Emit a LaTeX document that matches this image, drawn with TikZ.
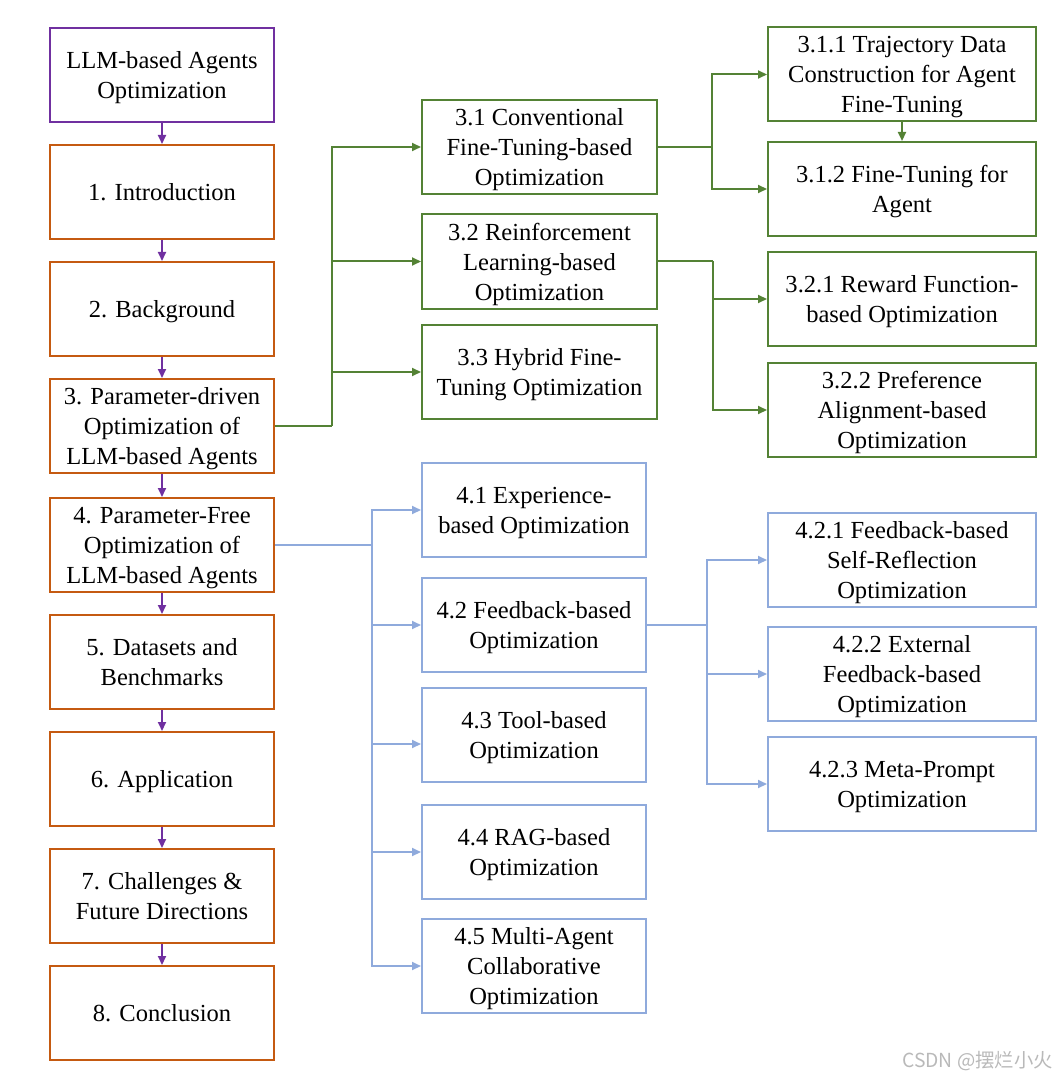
\documentclass[tikz,border=0pt]{standalone}
\usepackage{fontspec}
\setmainfont{Liberation Serif}
\newfontfamily\cjk{Noto Sans CJK SC}
\usepackage{tikz}
\usetikzlibrary{arrows.meta}

\begin{document}
\begin{tikzpicture}[x=0.75pt,y=0.75pt,yscale=-1,xscale=1,
  box/.style={draw,line width=1.5pt,inner sep=0pt,align=center,text depth=0pt,font=\fontsize{18.4}{22.5}\selectfont},
  leftbox/.style={box,minimum width=168pt,minimum height=70.5pt},
  midbox/.style={box,minimum width=168pt,minimum height=70.5pt},
  widebox/.style={box,minimum width=176.25pt,minimum height=70.5pt},
  rightbox/.style={box,minimum width=201pt,minimum height=70.5pt},
  purp/.style={color={rgb, 255:red, 112; green, 48; blue, 160 }},
  orng/.style={color={rgb, 255:red, 197; green, 90; blue, 17 }},
  grn/.style={color={rgb, 255:red, 84; green, 130; blue, 53 }},
  blu/.style={color={rgb, 255:red, 143; green, 170; blue, 220 }},
  link/.style={line width=1.5pt},
  arr/.style={link,-{Triangle[length=6.75pt,width=6pt]}}
]
\useasboundingbox (0,0) rectangle (1058,1080);

%Left column
\node [leftbox,purp,text=black] (top) at (162,75) {LLM-based Agents\\Optimization};
\node [leftbox,orng,text=black] (s1) at (162,192) {1. Introduction};
\node [leftbox,orng,text=black] (s2) at (162,309) {2. Background};
\node [leftbox,orng,text=black] (s3) at (162,426) {3. Parameter-driven\\Optimization of\\LLM-based Agents};
\node [leftbox,orng,text=black] (s4) at (162,545) {4. Parameter-Free\\Optimization of\\LLM-based Agents};
\node [leftbox,orng,text=black] (s5) at (162,662) {5. Datasets and\\Benchmarks};
\node [leftbox,orng,text=black] (s6) at (162,779) {6. Application};
\node [leftbox,orng,text=black] (s7) at (162,896) {7. Challenges \&\\Future Directions};
\node [leftbox,orng,text=black] (s8) at (162,1013) {8. Conclusion};

\foreach \a/\b in {top/s1,s1/s2,s2/s3,s3/s4,s4/s5,s5/s6,s6/s7,s7/s8}
  \draw [arr,purp] (\a.south) -- (\b.north);

%Section 3
\node [widebox,grn,text=black] (s31) at (539.5,147) {3.1 Conventional\\Fine-Tuning-based\\Optimization};
\node [widebox,grn,text=black] (s32) at (539.5,261.5) {3.2 Reinforcement\\Learning-based\\Optimization};
\node [widebox,grn,text=black] (s33) at (539.5,372) {3.3 Hybrid Fine-\\Tuning Optimization};

\node [rightbox,grn,text=black] (s311) at (902,74.5) {3.1.1 Trajectory Data\\Construction for Agent\\Fine-Tuning};
\node [rightbox,grn,text=black] (s312) at (902,189) {3.1.2 Fine-Tuning for\\Agent};
\node [rightbox,grn,text=black] (s321) at (902,299) {3.2.1 Reward Function-\\based Optimization};
\node [rightbox,grn,text=black] (s322) at (902,410) {3.2.2 Preference\\Alignment-based\\Optimization};

\coordinate (gtrunk) at (332,426);
\coordinate (g31) at (712,147);
\coordinate (g32) at (713,261.5);

\draw [link,grn] (s3.east) -- (gtrunk);
\foreach \t in {s31,s32,s33}
  \draw [arr,grn] (gtrunk) |- (\t.west);
\draw [link,grn] (s31.east) -- (g31);
\draw [arr,grn] (g31) |- (s311.west);
\draw [arr,grn] (g31) |- (s312.west);
\draw [arr,grn] (s311.south) -- (s312.north);
\draw [link,grn] (s32.east) -- (g32);
\draw [arr,grn] (g32) |- (s321.west);
\draw [arr,grn] (g32) |- (s322.west);

%Section 4
\node [midbox,blu,text=black] (s41) at (534,510) {4.1 Experience-\\based Optimization};
\node [midbox,blu,text=black] (s42) at (534,625) {4.2 Feedback-based\\Optimization};
\node [midbox,blu,text=black] (s43) at (534,735) {4.3 Tool-based\\Optimization};
\node [midbox,blu,text=black] (s44) at (534,852) {4.4 RAG-based\\Optimization};
\node [midbox,blu,text=black] (s45) at (534,966) {4.5 Multi-Agent\\Collaborative\\Optimization};

\node [rightbox,blu,text=black] (s421) at (902,560) {4.2.1 Feedback-based\\Self-Reflection\\Optimization};
\node [rightbox,blu,text=black] (s422) at (902,674) {4.2.2 External\\Feedback-based\\Optimization};
\node [rightbox,blu,text=black] (s423) at (902,784) {4.2.3 Meta-Prompt\\Optimization};

\coordinate (btrunk) at (372,545);
\coordinate (b42) at (707,625);

\draw [link,blu] (s4.east) -- (btrunk);
\foreach \t in {s41,s42,s44,s45}
  \draw [arr,blu] (btrunk) |- (\t.west);
\draw [arr,blu] (btrunk) |- ([yshift=6.75pt]s43.west);
\draw [link,blu] (s42.east) -- (b42);
\foreach \t in {s421,s422,s423}
  \draw [arr,blu] (b42) |- (\t.west);

% Text Node
\node [anchor=base east,inner sep=0pt,text={rgb,255:red,185;green,185;blue,185},font=\cjk\fontsize{14.5}{16}\selectfont] (mark) at (1053,1067) {CSDN @摆烂小火};

\end{tikzpicture}
\end{document}
